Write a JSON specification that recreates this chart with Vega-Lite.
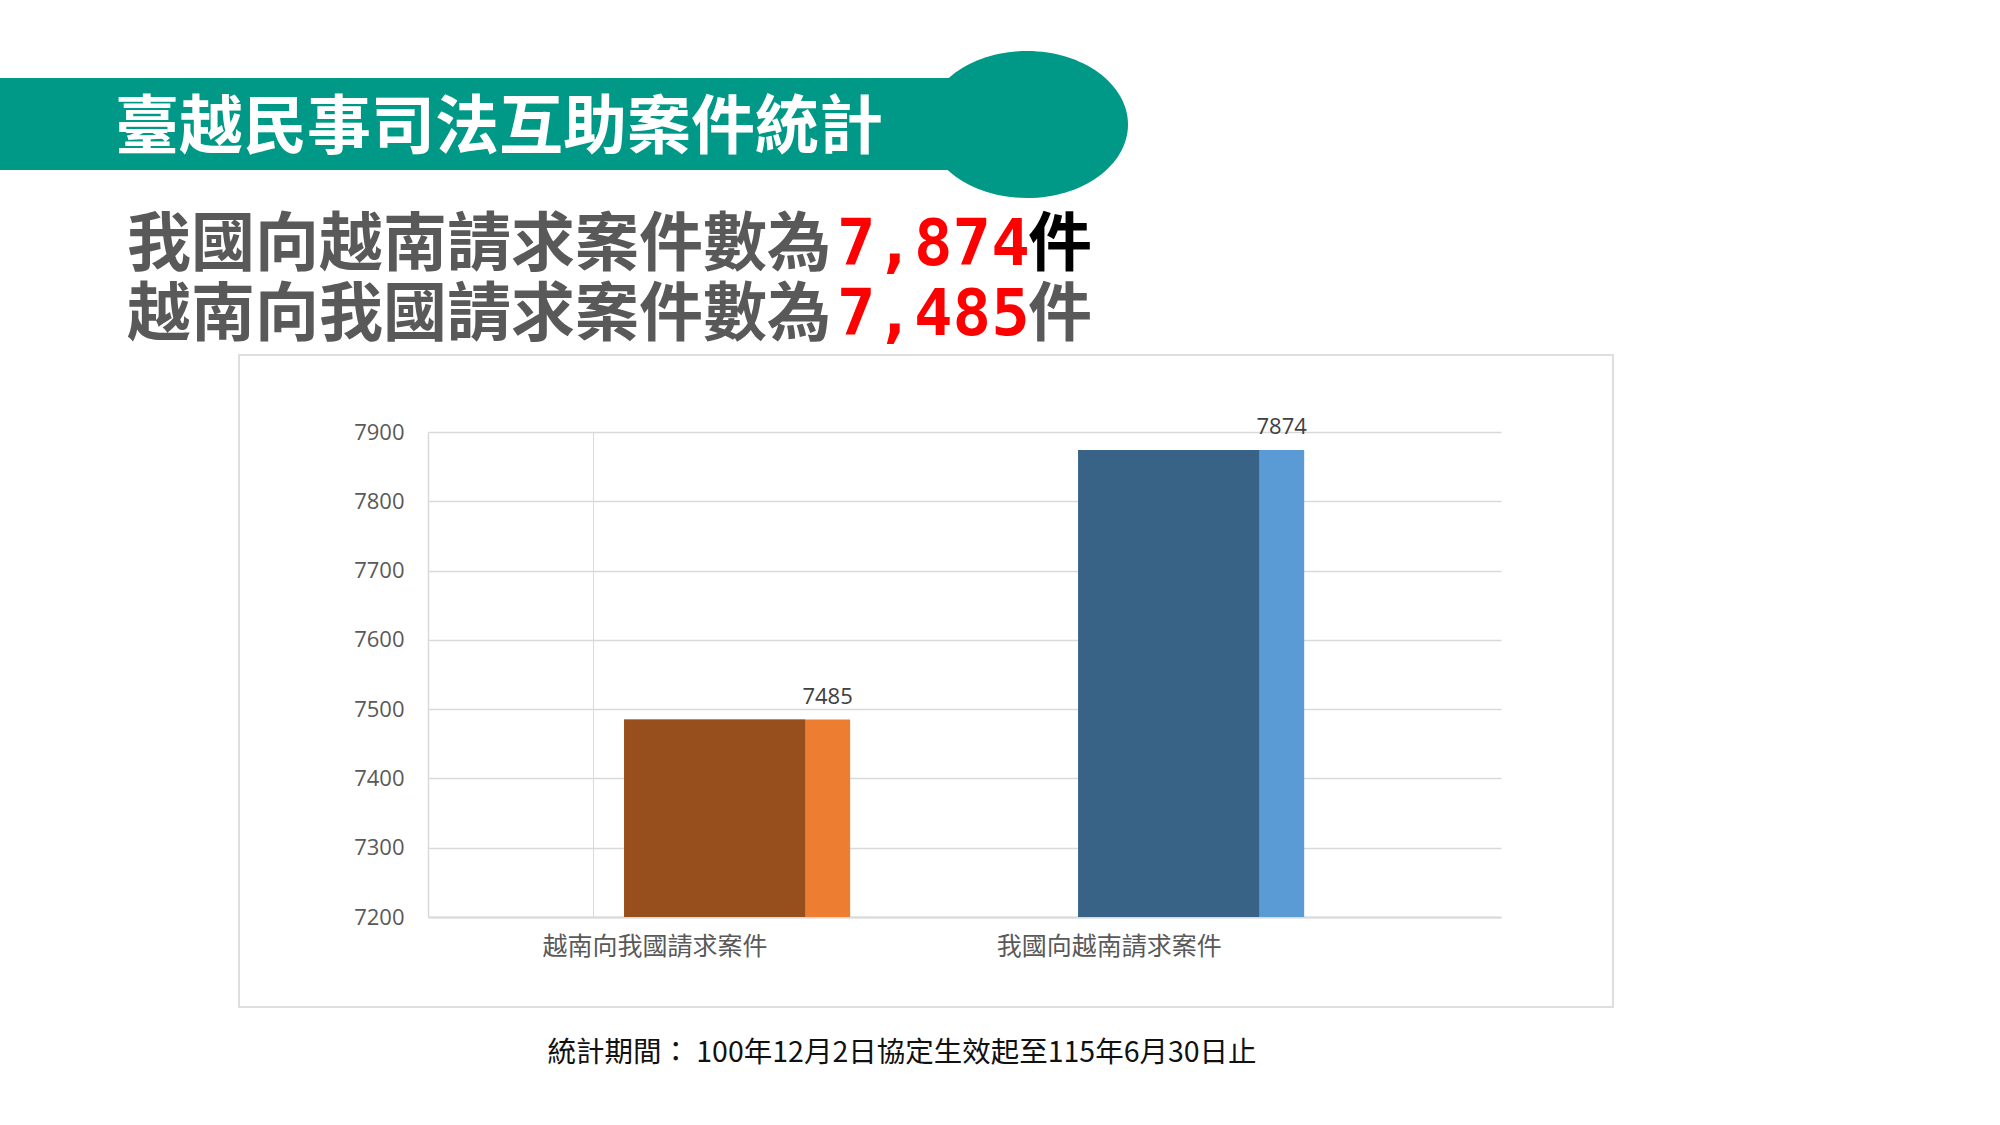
{
  "$schema": "https://vega.github.io/schema/vega-lite/v6.json",
  "width": 1073,
  "height": 485,
  "autosize": {"type": "none"},
  "padding": {"left": 428, "top": 432, "right": 499, "bottom": 208},
  "background": "white",
  "config": {"view": {"stroke": null}, "font": "Noto Sans CJK TC"},
  "data": {
    "values": [
      {"category": "越南向我國請求案件", "value": 7485},
      {"category": "我國向越南請求案件", "value": 7874}
    ]
  },
  "layer": [
    {
      "data": {"values": [{}]},
      "mark": {"type": "rect", "fillOpacity": 0, "stroke": "#dedede", "strokeWidth": 2},
      "encoding": {"x": {"value": -189}, "x2": {"value": 1185}, "y": {"value": -77}, "y2": {"value": 575}}
    },
    {
      "data": {"values": [{}]},
      "mark": {"type": "rect", "fill": "#009886"},
      "encoding": {"x": {"value": -428}, "x2": {"value": 599}, "y": {"value": -354}, "y2": {"value": -262}}
    },
    {
      "data": {"values": [{}]},
      "mark": {"type": "point", "filled": true, "fill": "#009886", "opacity": 1, "strokeWidth": 0, "shape": "M-1,0A1,0.728,0,1,0,1,0A1,0.728,0,1,0,-1,0Z", "size": 40804},
      "encoding": {"x": {"value": 599}, "y": {"value": -307.5}}
    },
    {
      "data": {"values": [{"t": "臺越民事司法互助案件統計"}]},
      "mark": {"type": "text", "align": "left", "baseline": "alphabetic", "fontSize": 64, "fontWeight": "bold", "fill": "white"},
      "encoding": {"x": {"value": -313}, "y": {"value": -284}, "text": {"field": "t"}}
    },
    {
      "data": {"values": [{"t": "我國向越南請求案件數為"}]},
      "mark": {"type": "text", "align": "left", "baseline": "alphabetic", "fontSize": 64, "fontWeight": "bold", "fill": "#595959"},
      "encoding": {"x": {"value": -301}, "y": {"value": -167}, "text": {"field": "t"}}
    },
    {
      "data": {"values": [{"t": "越南向我國請求案件數為"}]},
      "mark": {"type": "text", "align": "left", "baseline": "alphabetic", "fontSize": 64, "fontWeight": "bold", "fill": "#595959"},
      "encoding": {"x": {"value": -301}, "y": {"value": -97}, "text": {"field": "t"}}
    },
    {
      "transform": [{"filter": "datum.category === '我國向越南請求案件'"}],
      "mark": {"type": "text", "align": "left", "baseline": "alphabetic", "fontSize": 64, "fontWeight": "bold", "font": "DejaVu Sans Mono", "fill": "#ff0000"},
      "encoding": {"x": {"value": 409}, "y": {"value": -167}, "text": {"field": "value", "type": "quantitative", "format": ","}}
    },
    {
      "transform": [{"filter": "datum.category === '越南向我國請求案件'"}],
      "mark": {"type": "text", "align": "left", "baseline": "alphabetic", "fontSize": 64, "fontWeight": "bold", "font": "DejaVu Sans Mono", "fill": "#ff0000"},
      "encoding": {"x": {"value": 409}, "y": {"value": -97}, "text": {"field": "value", "type": "quantitative", "format": ","}}
    },
    {
      "data": {"values": [{"t": "件"}]},
      "mark": {"type": "text", "align": "left", "baseline": "alphabetic", "fontSize": 64, "fontWeight": "bold", "fill": "#000000"},
      "encoding": {"x": {"value": 600}, "y": {"value": -167}, "text": {"field": "t"}}
    },
    {
      "data": {"values": [{"t": "件"}]},
      "mark": {"type": "text", "align": "left", "baseline": "alphabetic", "fontSize": 64, "fontWeight": "bold", "fill": "#595959"},
      "encoding": {"x": {"value": 600}, "y": {"value": -97}, "text": {"field": "t"}}
    },
    {
      "data": {"values": [{"t": "統計期間：  100年12月2日協定生效起至115年6月30日止"}]},
      "mark": {"type": "text", "align": "center", "baseline": "middle", "fontSize": 28.5, "fill": "#111111"},
      "encoding": {"x": {"value": 474}, "y": {"value": 621}, "text": {"field": "t"}}
    },
    {
      "mark": {"type": "bar"},
      "encoding": {
        "x": {
          "field": "category", "type": "nominal", "sort": null, "title": null,
          "scale": {"paddingInner": 0.502, "paddingOuter": 0.4326, "align": 0.499},
          "axis": {
            "ticks": false, "labelAngle": 0, "labelFontSize": 25, "labelColor": "#595959",
            "labelPadding": 17, "labelOffset": -82, "labelLimit": 0, "bandPosition": -0.137,
            "grid": true,
            "gridColor": {"condition": {"test": "datum.value === '越南向我國請求案件'", "value": "#d9d9d9"}, "value": "transparent"},
            "domainColor": "#d9d9d9", "domainWidth": 2
          }
        },
        "y": {
          "field": "value", "type": "quantitative", "title": null,
          "scale": {"domain": [7200, 7900], "zero": false, "nice": false},
          "axis": {
            "values": [7200, 7300, 7400, 7500, 7600, 7700, 7800, 7900], "format": "d",
            "ticks": false, "labelPadding": 24, "labelFontSize": 22, "labelColor": "#595959",
            "labelFont": "Open Sans", "gridColor": "#d9d9d9", "gridWidth": 1.3,
            "domainColor": "#d9d9d9", "domainWidth": 1.5
          }
        },
        "y2": {"datum": 7200},
        "color": {"condition": {"test": "datum.category === '越南向我國請求案件'", "value": "#ed7d31"}, "value": "#5b9bd5"}
      }
    },
    {
      "mark": {"type": "bar", "width": 181, "xOffset": -22.5},
      "encoding": {
        "x": {"field": "category", "type": "nominal", "sort": null},
        "y": {"field": "value", "type": "quantitative"},
        "y2": {"datum": 7200},
        "color": {"condition": {"test": "datum.category === '越南向我國請求案件'", "value": "#974f1e"}, "value": "#396386"}
      }
    },
    {
      "mark": {"type": "text", "baseline": "alphabetic", "dy": -16, "xOffset": 90.5, "fontSize": 22, "font": "Open Sans", "fill": "#404040"},
      "encoding": {
        "x": {"field": "category", "type": "nominal", "sort": null},
        "y": {"field": "value", "type": "quantitative"},
        "text": {"field": "value", "type": "quantitative"}
      }
    }
  ]
}
